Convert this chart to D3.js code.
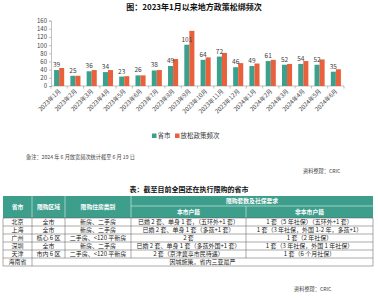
<!DOCTYPE html>
<html><head><meta charset="utf-8">
<script src="https://cdn.jsdelivr.net/npm/d3@7"></script>
<style>
html,body{margin:0;padding:0;background:#fff;}
svg{display:block;}
text{font-family:"Noto Sans CJK SC","Noto Sans",sans-serif;}
</style></head>
<body>
<svg id="c" width="378" height="300"></svg>
<script>
const months = ["2023年1月","2023年2月","2023年3月","2023年4月","2023年5月","2023年6月","2023年7月","2023年8月","2023年9月","2023年10月","2023年11月","2023年12月","2024年1月","2024年2月","2024年3月","2024年4月","2024年5月","2024年6月"];
const cities = [39,25,36,34,23,26,38,49,101,64,72,46,49,61,52,54,52,35];
const relax = [44,25,39,39,24,26,39,66,135,70,81,56,55,64,54,61,65,41];
const seriesNames = ["省市","放松政策频次"];
const yTicks = [0,20,40,60,80,100,120,140,160];

const tableHead1 = ["省市","限购区域","限购住房类别","限购套数及社保要求"];
const tableHead2 = ["本市户籍","非本市户籍"];
const tableRows = [
  ["北京","全市","新房、二手房","已婚 2 套、单身 1 套，（五环外+1 套）","1 套（5 年社保）（五环外+1 套）"],
  ["上海","全市","新房、二手房","已婚 2 套、单身 1 套（多孩+1 套）","1 套（3 年社保，外国 1-2 年，多孩+1）"],
  ["广州","核心 6 区","二手房、<120 平新房","2 套","1 套（2 年社保）"],
  ["深圳","全市","新房、二手房","已婚 2 套、单身 1 套（多孩外国+1 套）","1 套（3 年社保，外国 1 年社保）"],
  ["天津","市内 6 区","二手房、<120 平新房","2 套（京津冀享市民待遇）","1 套（6 个月社保）"]
];
const tableLast = ["海南省","因城施策，省内三亚最严"];

const teal = "#3BA18C", red = "#E8603C", head = "#3E9E8C";
const svg = d3.select("#c");

// Chart title
svg.append("text").attr("x",194).attr("y",10).attr("text-anchor","middle")
  .attr("font-size",8).attr("font-weight","bold").attr("fill","#111")
  .text("图：2023年1月以来地方政策松绑频次");

const x = d3.scaleBand().domain(months).range([51,344]).paddingInner(0.38).paddingOuter(0.19);
const x1 = d3.scaleBand().domain([0,1]).range([0,x.bandwidth()]);
const y = d3.scaleLinear().domain([0,160]).range([86,20.6]);

// y axis
const ya = svg.append("g").attr("transform","translate(51,0)")
  .call(d3.axisLeft(y).tickValues(yTicks).tickSize(2).tickPadding(2));
ya.selectAll("text").attr("font-size",6).attr("fill","#444");
ya.selectAll("line,path").attr("stroke","#999").attr("stroke-width",0.6);

// x axis
const xa = svg.append("g").attr("transform","translate(0,86)");
xa.append("line").attr("x1",51).attr("x2",344).attr("stroke","#999").attr("stroke-width",0.6);
const bounds = months.map(m=>x(m)-x.step()*x.paddingInner()/2).concat([344]);
xa.selectAll("line.tk").data(bounds).join("line").attr("class","tk")
  .attr("x1",d=>d).attr("x2",d=>d).attr("y1",0).attr("y2",2.5).attr("stroke","#999").attr("stroke-width",0.6);
xa.selectAll("text").data(months).join("text")
  .attr("transform",d=>`translate(${x(d)+x.bandwidth()/2+2},5.5) rotate(-45)`)
  .attr("text-anchor","end").attr("font-size",6).attr("fill","#444").text(d=>d);

// bars
const series = [cities, relax];
const colors = [teal, red];
series.forEach((s,i)=>{
  svg.append("g").selectAll("rect").data(s).join("rect")
    .attr("x",(d,j)=>x(months[j])+x1(i)).attr("width",x1.bandwidth())
    .attr("y",d=>y(d)).attr("height",d=>y(0)-y(d)).attr("fill",colors[i]);
});
svg.append("g").selectAll("text").data(cities).join("text")
  .attr("x",(d,j)=>x(months[j])+x1(0)+x1.bandwidth()/2)
  .attr("y",d=>y(d)-3).attr("text-anchor","middle")
  .attr("font-size",6.5).attr("fill","#404040").text(d=>d);

// legend
const lg = svg.append("g").attr("transform","translate(152,136)");
lg.append("rect").attr("x",0).attr("y",-2.5).attr("width",4.5).attr("height",4.5).attr("fill",teal);
lg.append("text").attr("x",5.5).attr("y",2.3).attr("font-size",6.5).attr("fill","#333").text(seriesNames[0]);
lg.append("rect").attr("x",23).attr("y",-2.5).attr("width",4.5).attr("height",4.5).attr("fill",red);
lg.append("text").attr("x",28.5).attr("y",2.3).attr("font-size",6.5).attr("fill","#333").text(seriesNames[1]);

// notes
svg.append("text").attr("x",26).attr("y",159).attr("font-size",5.2).attr("fill","#444")
  .text("备注：2024 年 6 月放宽频次统计截至 6 月 19 日");
svg.append("text").attr("x",303).attr("y",173).attr("font-size",5.2).attr("fill","#444")
  .text("资料整理：CRIC");

// table title
svg.append("text").attr("x",189).attr("y",192).attr("text-anchor","middle")
  .attr("font-size",7).attr("font-weight","bold").attr("fill","#111")
  .text("表：截至目前全国还在执行限购的省市");

// table
const cx = [3,32,65,131,246,373];
const hy = [196,206,218];
const rowH = 8;
const t = svg.append("g");
t.append("rect").attr("x",cx[0]).attr("y",hy[0]).attr("width",cx[5]-cx[0]).attr("height",hy[2]-hy[0]).attr("fill",head);
[1,2,3].forEach(i=>t.append("line").attr("x1",cx[i]).attr("x2",cx[i]).attr("y1",hy[0]).attr("y2",hy[2]).attr("stroke","#fff").attr("stroke-width",0.5));
t.append("line").attr("x1",cx[4]).attr("x2",cx[4]).attr("y1",hy[1]).attr("y2",hy[2]).attr("stroke","#fff").attr("stroke-width",0.5);
t.append("line").attr("x1",cx[3]).attr("x2",cx[5]).attr("y1",hy[1]).attr("y2",hy[1]).attr("stroke","#fff").attr("stroke-width",0.5);
const hs = {"font-size":5.8,"fill":"#fff","font-weight":"bold","text-anchor":"middle"};
function txt(g,xx,yy,s,st){const e=g.append("text").attr("x",xx).attr("y",yy).text(s);for(const k in st)e.attr(k,st[k]);return e;}
[0,1,2].forEach(i=>txt(t,(cx[i]+cx[i+1])/2,(hy[0]+hy[2])/2+2,tableHead1[i],hs));
txt(t,(cx[3]+cx[5])/2,(hy[0]+hy[1])/2+2,tableHead1[3],hs);
txt(t,(cx[3]+cx[4])/2,(hy[1]+hy[2])/2+2,tableHead2[0],hs);
txt(t,(cx[4]+cx[5])/2,(hy[1]+hy[2])/2+2,tableHead2[1],hs);
const ds = {"font-size":6,"fill":"#222","text-anchor":"middle"};
tableRows.forEach((r,ri)=>{
  const y0 = hy[2]+ri*rowH;
  r.forEach((c,ci)=>txt(t,(cx[ci]+cx[ci+1])/2,y0+rowH/2+2.1,c,ds));
});
const yl = hy[2]+tableRows.length*rowH;
txt(t,(cx[0]+cx[1])/2,yl+rowH/2+2.1,tableLast[0],ds);
txt(t,(cx[1]+cx[5])/2,yl+rowH/2+2.1,tableLast[1],ds);
const yEnd = yl+rowH;
for(let i=0;i<=tableRows.length+1;i++){
  const yy = hy[2]+i*rowH;
  t.append("line").attr("x1",cx[0]).attr("x2",cx[5]).attr("y1",yy).attr("y2",yy).attr("stroke","#555").attr("stroke-width",0.5);
}
[0,5].forEach(i=>t.append("line").attr("x1",cx[i]).attr("x2",cx[i]).attr("y1",hy[2]).attr("y2",yEnd).attr("stroke","#555").attr("stroke-width",0.5));
[1,2,3,4].forEach(i=>t.append("line").attr("x1",cx[i]).attr("x2",cx[i]).attr("y1",hy[2]).attr("y2",yl).attr("stroke","#555").attr("stroke-width",0.5));
t.append("line").attr("x1",cx[1]).attr("x2",cx[1]).attr("y1",yl).attr("y2",yEnd).attr("stroke","#555").attr("stroke-width",0.5);

svg.append("text").attr("x",294).attr("y",291).attr("font-size",5.2).attr("fill","#444")
  .text("资料整理：CRIC");
</script>
</body></html>
